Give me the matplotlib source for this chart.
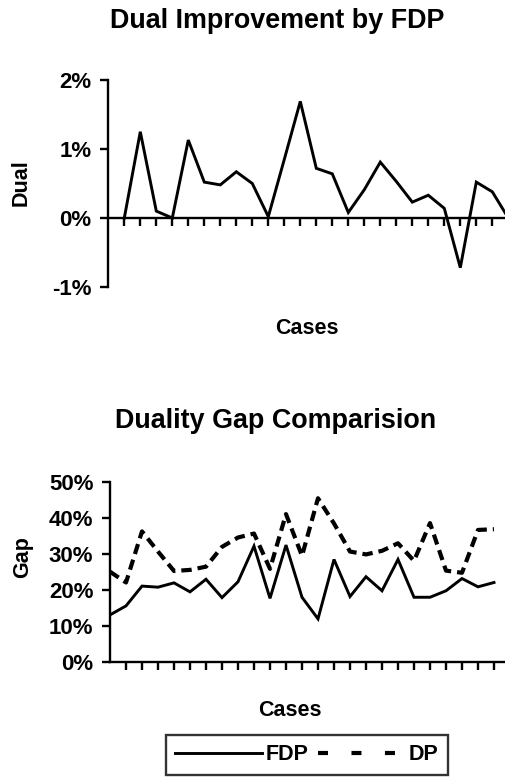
import matplotlib
matplotlib.use("Agg")
import matplotlib.pyplot as plt
from matplotlib.lines import Line2D

plt.rcParams['font.family'] = ['Liberation Sans', 'DejaVu Sans']
plt.rcParams['font.weight'] = 'bold'
plt.rcParams['lines.scale_dashes'] = False

# ---- data ----
dual_cases = list(range(1, 26))
dual_values = [0.00, 1.25, 0.10, 0.00, 1.13, 0.52, 0.48, 0.67, 0.50, 0.02,
               0.85, 1.69, 0.72, 0.64, 0.08, 0.41, 0.81, 0.53, 0.23, 0.33,
               0.14, -0.72, 0.52, 0.38, 0.00]
dual_ticks = [-1, 0, 1, 2]
dual_ticklabels = ['-1%', '0%', '1%', '2%']

gap_cases = list(range(0, 25))
gap_fdp = [13.0, 15.5, 21.0, 20.7, 21.9, 19.4, 22.9, 17.8, 22.2, 32.1,
           17.6, 32.4, 17.9, 11.9, 28.4, 18.1, 23.6, 19.7, 28.4, 17.9,
           17.9, 19.7, 23.1, 20.8, 22.0]
gap_dp = [25.0, 22.0, 36.2, 30.6, 25.2, 25.5, 26.4, 31.9, 34.5, 35.6,
          25.8, 41.0, 29.4, 45.4, 38.4, 30.6, 29.8, 30.8, 32.9, 28.0,
          38.5, 25.3, 24.7, 36.6, 36.8]
gap_ticks = [0, 10, 20, 30, 40, 50]
gap_ticklabels = ['0%', '10%', '20%', '30%', '40%', '50%']

W, H = 505, 777
fig = plt.figure(figsize=(W / 100, H / 100), dpi=100)


def rect(l, t, r, b):
    return [l / W, 1 - b / H, (r - l) / W, (b - t) / H]


def ftext(x, y, s, **kw):
    fig.text(x / W, 1 - y / H, s, ha='center', va='center',
             fontweight='bold', **kw)


SPW = 1.7
LW = 2.1
DPW = 3.0
TICKFS = 16
LABFS = 15.5
TITLEFS = 19.4


def style_axes(ax):
    for s in ['top', 'right']:
        ax.spines[s].set_visible(False)
    for s in ['left', 'bottom']:
        ax.spines[s].set_linewidth(SPW)
        ax.spines[s].set_color('black')
    ax.tick_params(axis='both', direction='out', length=6, width=SPW,
                   color='black', labelsize=TICKFS, pad=6)
    ax.tick_params(axis='x', labelbottom=False)
    for lab in ax.get_yticklabels():
        lab.set_fontweight('bold')


# ---- top chart ----
ax1 = fig.add_axes(rect(108.3, 80, 505, 287))
ax1.plot(dual_cases, dual_values, color='black', lw=LW,
         solid_joinstyle='miter')
ax1.set_xlim(0, (505 - 108.3) / 16)
ax1.set_ylim(-1, 2)
ax1.set_yticks(dual_ticks)
ax1.set_yticklabels(dual_ticklabels)
ax1.set_xticks(range(1, 25))
ax1.spines['bottom'].set_position(('data', 0))
style_axes(ax1)

ftext(277, 21, 'Dual Improvement by FDP', fontsize=TITLEFS)
ftext(21, 183, 'Dual', fontsize=LABFS, rotation=90)
ftext(307, 329, 'Cases', fontsize=LABFS)

# ---- bottom chart ----
ax2 = fig.add_axes(rect(110, 481.7, 505, 661.7))
ax2.plot(gap_cases, gap_fdp, color='black', lw=LW, solid_joinstyle='miter',
         label='FDP')
ax2.plot(gap_cases, gap_dp, color='black', lw=DPW,
         linestyle=(0, (7.5, 4.3)), dash_capstyle='butt', label='DP')
ax2.set_xlim(0, (505 - 110) / 16)
ax2.set_ylim(0, 50)
ax2.set_yticks(gap_ticks)
ax2.set_yticklabels(gap_ticklabels)
ax2.set_xticks(range(1, 25))
style_axes(ax2)

ftext(276, 421, 'Duality Gap Comparision', fontsize=TITLEFS)
ftext(23, 557, 'Gap', fontsize=LABFS, rotation=90)
ftext(290, 711, 'Cases', fontsize=LABFS)

h1 = Line2D([], [], color='black', lw=LW)
h2 = Line2D([], [], color='black', lw=DPW, linestyle=(0, (7.2, 16.9)),
            dash_capstyle='butt')
leg = fig.legend([h1, h2], ['FDP', 'DP'], loc='center',
                 bbox_to_anchor=(307 / W, 1 - 755 / H), ncol=2,
                 prop={'size': 15.5, 'weight': 'bold'},
                 handlelength=4.0, handletextpad=0.2, columnspacing=0.45,
                 borderpad=0.45, borderaxespad=0, frameon=True,
                 fancybox=False)
leg.get_frame().set_edgecolor('black')
leg.get_frame().set_linewidth(SPW)

fig.savefig('out.png', dpi=100)
